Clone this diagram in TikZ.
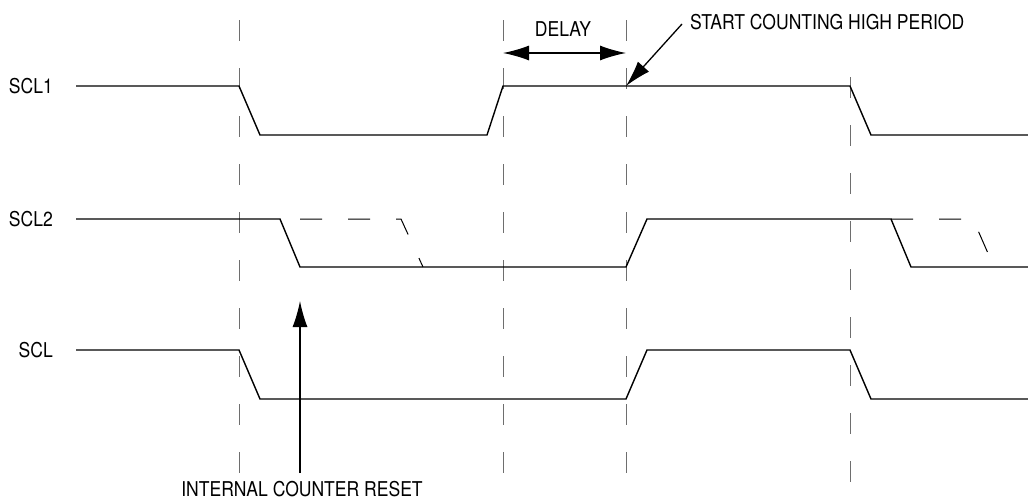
\documentclass[tikz,border=0pt]{standalone}
\usepackage{fontspec}
\setmainfont[FakeStretch=0.86]{TeX Gyre Heros}
\usepackage{tikz}
\usetikzlibrary{arrows.meta,positioning}
\definecolor{signal}{RGB}{0,0,0}
\definecolor{guide}{RGB}{110,110,110}

\begin{document}
\begin{tikzpicture}[x=1pt, y=-1pt,
    wave/.style={signal, line width=1.4pt},
    dontcare/.style={signal, line width=1pt, dash pattern=on 22pt off 26pt},
    marker/.style={guide, line width=1pt, dash pattern=on 21pt off 27pt},
    callout/.style={signal, line width=1.3pt, -{Latex[length=26pt,width=15pt]}},
    span/.style={signal, line width=1.3pt, {Latex[length=26pt,width=15pt]}-{Latex[length=26pt,width=15pt]}},
    lbl/.style={font=\fontsize{20.4}{24}\selectfont, inner sep=0pt}]
    \useasboundingbox (0,0) rectangle (1028,501);
    \foreach \x/\a/\b in {239/20/473,503/20/473,626/20/473,850/77/482}
      \draw[marker] (\x,\a) -- (\x,\b);
    \foreach \name/\y in {SCL1/86,SCL2/219,SCL/350}
      \node[lbl, anchor=east] (\name) at (53,\y) {\name};
    \draw[wave] (76,86) -- (239,86) -- (260,135) -- (487,135) -- (503,86) -- (850,86) -- (871,135) -- (1028,135);
    \draw[wave] (76,219) -- (280,219) -- (300,267) -- (626,267) -- (647,219) -- (891,219) -- (911,267) -- (1028,267);
    \draw[wave] (76,350) -- (239,350) -- (260,399) -- (626,399) -- (647,350) -- (850,350) -- (871,399) -- (1028,399);
    \draw[dontcare, dash phase=28pt] (280,219) -- (401,219) -- (423,267);
    \draw[dontcare] (891,219) -- (973,219) -- (994,267);
    \node[lbl] (delay) at (563,29) {DELAY};
    \coordinate (delayl) at (503,53);
    \coordinate (delayr) at (626,53);
    \draw[span] (delayl) -- (delayr);
    \node[lbl, anchor=west] (start) at (690,22) {START COUNTING HIGH PERIOD};
    \coordinate (startpt) at (626,86);
    \draw[callout] ([xshift=-8pt,yshift=-2pt]start.west) -- (startpt);
    \node[lbl] (reset) at (302,489) {INTERNAL COUNTER RESET};
    \coordinate (resettail) at (300,473);
    \coordinate (resetpt) at (300,301);
    \draw[callout] (resettail) -- (resetpt);
\end{tikzpicture}
\end{document}
